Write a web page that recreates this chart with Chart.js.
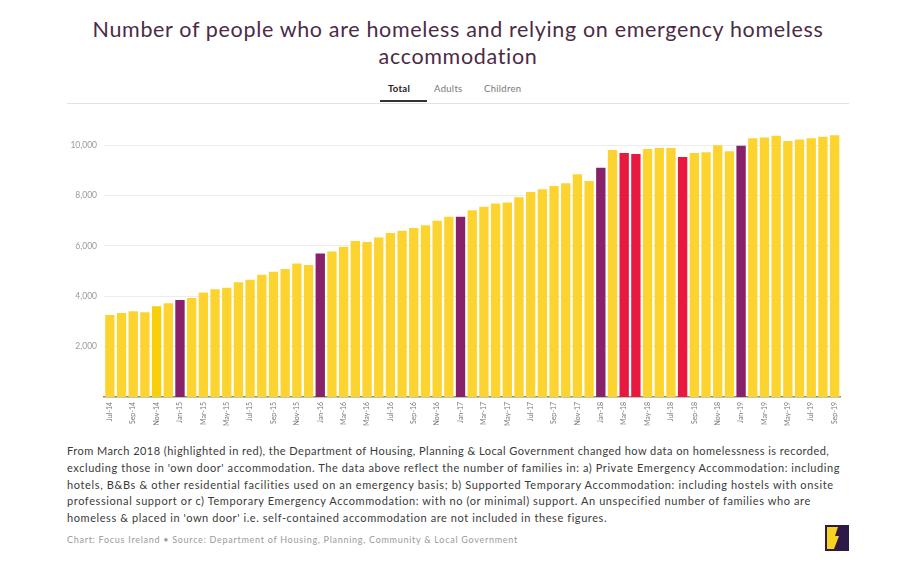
<!DOCTYPE html>
<html>
<head>
<meta charset="utf-8">
<script src="https://cdn.jsdelivr.net/npm/chart.js@4.4.1/dist/chart.umd.min.js"></script>
<style>
  html, body { margin:0; padding:0; background:#fff; }
  body { width:900px; height:578px; position:relative; overflow:hidden; font-family: Lato, "Open Sans", sans-serif; }
  #title { position:absolute; left:8px; width:900px; top:16px; text-align:center; font-size:21.5px; line-height:27px; color:#4b2c46; letter-spacing:0.66px; }
  #tabs { position:absolute; left:67px; width:782px; top:82px; height:21px; border-bottom:1px solid #e2e2e2; }
  .tab { position:absolute; top:1px; font-size:9.5px; color:#777; letter-spacing:0.3px; }
  #t1 { left:321px; font-weight:bold; color:#222; }
  #t1u { position:absolute; left:313px; width:47px; top:18px; height:2px; background:#333; }
  #t2 { left:367px; }
  #t3 { left:417px; }
  #chartwrap { position:absolute; left:60px; top:123px; width:788px; height:310px; }
  #note { position:absolute; left:67px; top:443px; font-size:11px; line-height:16.8px; color:#3a3a3a; white-space:nowrap; letter-spacing:0.58px; }
  #l1 { letter-spacing:0.46px; }
  #l3 { letter-spacing:0.64px; }
  #l4 { letter-spacing:0.6px; }
  #src { position:absolute; left:67px; top:534px; font-size:9px; color:#9a9a9a; white-space:nowrap; letter-spacing:0.72px; }
  #logo { position:absolute; left:825px; top:525px; width:24px; height:26px; }
</style>
</head>
<body>
<div id="title">Number of people who are homeless and relying on emergency homeless<br>accommodation</div>
<div id="tabs">
  <span class="tab" id="t1">Total</span><div id="t1u"></div>
  <span class="tab" id="t2">Adults</span>
  <span class="tab" id="t3">Children</span>
</div>
<div id="chartwrap"><canvas id="c"></canvas></div>
<div id="note"><span id="l1">From March 2018 (highlighted in red), the Department of Housing, Planning &amp; Local Government changed how data on homelessness is recorded,</span><br><span id="l2">excluding those in 'own door' accommodation. The data above reflect the number of families in: a) Private Emergency Accommodation: including</span><br><span id="l3">hotels, B&amp;Bs &amp; other residential facilities used on an emergency basis; b) Supported Temporary Accommodation: including hostels with onsite</span><br><span id="l4">professional support or c) Temporary Emergency Accommodation: with no (or minimal) support. An unspecified number of families who are</span><br><span id="l5">homeless &amp; placed in 'own door' i.e. self-contained accommodation are not included in these figures.</span></div>
<div id="src">Chart: Focus Ireland • Source: Department of Housing, Planning, Community &amp; Local Government</div>
<svg id="logo" viewBox="0 0 24 26">
  <rect x="0" y="0" width="24" height="26" fill="#2e1a47"/>
  <path d="M2 2 H13 L10 11 L14 11 L9 24 H2 Z" fill="#f7d21e"/>
</svg>
<script>
const months = ["Jul-14","Aug-14","Sep-14","Oct-14","Nov-14","Dec-14",
  "Jan-15","Feb-15","Mar-15","Apr-15","May-15","Jun-15","Jul-15","Aug-15","Sep-15","Oct-15","Nov-15","Dec-15",
  "Jan-16","Feb-16","Mar-16","Apr-16","May-16","Jun-16","Jul-16","Aug-16","Sep-16","Oct-16","Nov-16","Dec-16",
  "Jan-17","Feb-17","Mar-17","Apr-17","May-17","Jun-17","Jul-17","Aug-17","Sep-17","Oct-17","Nov-17","Dec-17",
  "Jan-18","Feb-18","Mar-18","Apr-18","May-18","Jun-18","Jul-18","Aug-18","Sep-18","Oct-18","Nov-18","Dec-18",
  "Jan-19","Feb-19","Mar-19","Apr-19","May-19","Jun-19","Jul-19","Aug-19","Sep-19"];
const totals = [3258,3340,3406,3366,3604,3722,
  3854,3934,4145,4277,4343,4554,4660,4858,4976,5082,5306,5240,
  5702,5782,5966,6191,6151,6336,6508,6600,6706,6824,6996,7154,
  7154,7418,7550,7682,7722,7933,8144,8250,8382,8488,8844,8580,
  9108,9808,9689,9649,9847,9887,9887,9530,9689,9715,9992,9755,
  9979,10270,10309,10375,10164,10230,10270,10336,10397];
const januaryMonths = ["Jan-15","Jan-16","Jan-17","Jan-18","Jan-19"];
const redMonths = ["Mar-18","Apr-18","Aug-18"];
const yTicks = [2000,4000,6000,8000,10000];

const colors = months.map(m => januaryMonths.includes(m) ? "#86216a" : (redMonths.includes(m) ? "#e8193f" : (m === "Nov-14" ? "#f8cf0a" : "#fdd42f")));

new Chart(document.getElementById("c"), {
  type: "bar",
  data: { labels: months, datasets: [{ data: totals, backgroundColor: colors, borderWidth: 0,
    categoryPercentage: 1.0, barPercentage: 0.8 }] },
  options: {
    responsive: true, maintainAspectRatio: false, animation: false,
    layout: { padding: { top: 0, left: 0, right: 0, bottom: 0 } },
    plugins: { legend: { display: false }, tooltip: { enabled: false } },
    scales: {
      x: {
        grid: { display: false, drawTicks: false },
        border: { display: true, color: "#8a8a70", width: 1.5 },
        ticks: { autoSkip: false, minRotation: 90, maxRotation: 90, padding: 5,
          color: "#777", font: { family: "Lato", size: 7 },
          callback: function(v, i) { return i % 2 === 0 ? months[i] : ""; } },
        afterFit: s => { s.height = 36; }
      },
      y: {
        min: 0, max: 10400,
        grid: { color: "#ececec", drawTicks: false, lineWidth: 1 },
        border: { display: false },
        ticks: { color: "#9a9a9a", font: { family: "Lato", size: 8.5 }, padding: 7,
          callback: v => v.toLocaleString("en-US") },
        afterBuildTicks: s => { s.ticks = yTicks.map(v => ({ value: v })); },
        afterFit: s => { s.width = 44; }
      }
    }
  }
});
</script>
</body>
</html>
